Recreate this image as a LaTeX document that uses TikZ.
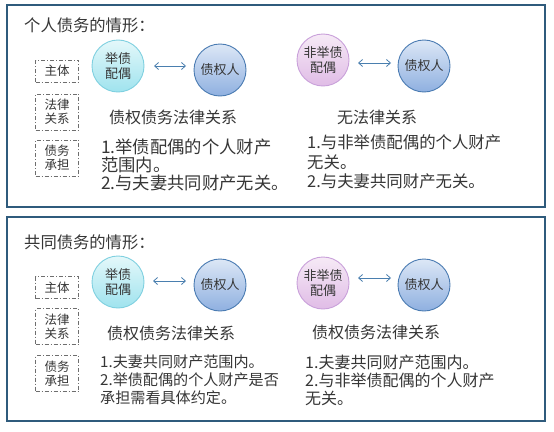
\documentclass[tikz,border=0pt]{standalone}
\usepackage{fontspec}
\setmainfont{Noto Sans CJK SC}
\usetikzlibrary{arrows.meta}
\definecolor{frame}{HTML}{2F5B7C}
\definecolor{txt}{HTML}{363636}
\definecolor{boxline}{HTML}{6E6E6E}
\definecolor{arr}{HTML}{4A7FAF}
\definecolor{cyanedge}{HTML}{7FD0E0}
\definecolor{cyantop}{HTML}{E4F8FA}
\definecolor{cyanbot}{HTML}{9FE3EE}
\definecolor{purpedge}{HTML}{C9A0DA}
\definecolor{purptop}{HTML}{F6EAF6}
\definecolor{purpbot}{HTML}{E0BCE6}
\definecolor{blueedge}{HTML}{4A7BB2}
\definecolor{bluetop}{HTML}{DCE7F6}
\definecolor{bluebot}{HTML}{8FB0E0}
\tikzset{
  panel/.style={draw=frame, line width=1.8pt, fill=white},
  titletext/.style={anchor=west, inner sep=0pt, text=txt, font=\fontsize{16.3}{18}\selectfont},
  labelbox/.style={draw=boxline, line width=0.7pt, dash pattern=on 4pt off 2pt on 1pt off 2pt,
     minimum width=43pt, inner sep=0pt, align=center, text=txt, font=\fontsize{12.5}{14}\selectfont},
  relation/.style={inner sep=0pt, text=txt, font=\fontsize{16}{18}\selectfont},
  body/.style={anchor=west, inner sep=0pt, align=left, text=txt},
  ball/.style={circle, minimum size=52pt, inner sep=0pt, align=center, line width=0.9pt,
     text=txt, font=\fontsize{13}{15}\selectfont},
  debtor/.style={ball, draw=cyanedge, top color=cyantop, bottom color=cyanbot},
  spouse/.style={ball, draw=purpedge, top color=purptop, bottom color=purpbot},
  creditor/.style={ball, draw=blueedge, top color=bluetop, bottom color=bluebot},
  link/.style={draw=arr, line width=0.8pt, {Straight Barb[length=4pt,width=7pt]}-{Straight Barb[length=4pt,width=7pt]}}
}
\begin{document}
\begin{tikzpicture}[x=1pt, y=-1pt]
\useasboundingbox[fill=white] (0,0) rectangle (554,431);
% panels
\draw[panel] (7,5) rectangle (545,207);
\draw[panel] (7,217) rectangle (545,421);

% ---------- top panel ----------
\node[titletext] (t1) at (24,25) {个人债务的情形：};
\node[labelbox, minimum height=22pt] (a1) at (57,71) {主体};
\node[labelbox, minimum height=36pt] (a2) at (57,112) {法律\\关系};
\node[labelbox, minimum height=36pt] (a3) at (57,158) {债务\\承担};

\node[debtor] (d1) at (118,66) {举债\\配偶};
\node[creditor] (c1) at (220,70) {债权人};
\coordinate (p1) at (154,66);
\coordinate (q1) at (186,66);
\draw[link] (p1) -- (q1);

\node[spouse] (s1) at (323,60) {非举债\\配偶};
\node[creditor] (c2) at (424,66) {债权人};
\coordinate (p2) at (358,63);
\coordinate (q2) at (391,63);
\draw[link] (p2) -- (q2);

\node[relation] (r1) at (173,117) {债权债务法律关系};
\node[relation] (r2) at (377,117) {无法律关系};

\node[body, font=\fontsize{17.3}{18.2}\selectfont] (b1) at (101,165) {1.举债配偶的个人财产\\范围内。\\2.与夫妻共同财产无关。};
\node[body, font=\fontsize{16.4}{19.5}\selectfont] (b2) at (307,162) {1.与非举债配偶的个人财产\\无关。\\2.与夫妻共同财产无关。};

% ---------- bottom panel ----------
\node[titletext] (t2) at (24,242) {共同债务的情形：};
\node[labelbox, minimum height=22pt] (e1) at (57,287.5) {主体};
\node[labelbox, minimum height=36pt] (e2) at (57,326.5) {法律\\关系};
\node[labelbox, minimum height=36pt] (e3) at (57,373.5) {债务\\承担};

\node[debtor] (d2) at (118,282) {举债\\配偶};
\node[creditor] (c3) at (220,285) {债权人};
\coordinate (p3) at (153,281);
\coordinate (q3) at (186,281);
\draw[link] (p3) -- (q3);

\node[spouse] (s2) at (323,283) {非举债\\配偶};
\node[creditor] (c4) at (424,285) {债权人};
\coordinate (p4) at (358,278);
\coordinate (q4) at (391,278);
\draw[link] (p4) -- (q4);

\node[relation] (r3) at (171,333) {债权债务法律关系};
\node[relation] (r4) at (376,332) {债权债务法律关系};

\node[body, font=\fontsize{15.1}{18}\selectfont] (b3) at (100,380) {1.夫妻共同财产范围内。\\2.举债配偶的个人财产是否\\承担需看具体约定。};
\node[body, font=\fontsize{16}{18}\selectfont] (b4) at (305,380) {1.夫妻共同财产范围内。\\2.与非举债配偶的个人财产\\无关。};
\end{tikzpicture}
\end{document}
